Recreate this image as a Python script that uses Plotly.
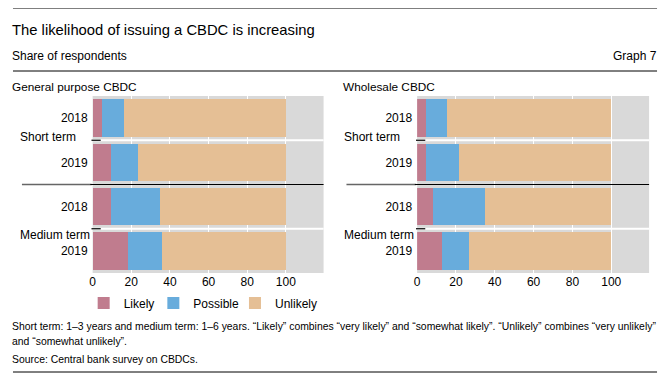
import plotly.graph_objects as go

W, H = 659, 372   # browser body margin of 8px shifts the figure; compensate
OFF = 8
FONT = "Liberation Sans, Arial, sans-serif"

terms = ["Short term", "Medium term"]
years = ["2018", "2019"]
series_names = ["Likely", "Possible", "Unlikely"]
colors = ["#c07c8e", "#68acdc", "#e5bf95"]

# order: Short 2018, Short 2019, Medium 2018, Medium 2019
general_likely = [4.6, 9.7, 9.7, 18.5]
general_possible = [11.8, 13.9, 25.2, 17.4]
general_unlikely = [83.6, 76.4, 65.1, 64.1]

wholesale_likely = [4.6, 4.6, 8.0, 12.8]
wholesale_possible = [10.8, 16.9, 26.9, 13.9]
wholesale_unlikely = [84.6, 78.5, 65.1, 73.3]

x_ticks = [0, 20, 40, 60, 80, 100]

positions = list(range(len(terms) * len(years)))
tick_text = [y for t in terms for y in years]

def px(x):
    return (x - OFF) / W

def py(y):
    return 1 - (y - OFF) / H

fig = go.Figure()

legend_ids = ["legend", "legend2", "legend3"]
panels = [
    ("x", "y", [general_likely, general_possible, general_unlikely], True),
    ("x2", "y2", [wholesale_likely, wholesale_possible, wholesale_unlikely], False),
]
for xa, ya, vals, show in panels:
    for name, col, v, lg in zip(series_names, colors, vals, legend_ids):
        fig.add_trace(go.Bar(
            x=v, y=positions, orientation="h", name=name,
            marker=dict(color=col, line=dict(width=0)),
            xaxis=xa, yaxis=ya, showlegend=show, legend=lg, hoverinfo="x+name",
        ))

ydom = [py(273), py(96)]
xdom1 = [px(90), px(322)]
xdom2 = [px(416), px(649)]

axis_x = dict(range=[0, 119.5], tickvals=x_ticks, showgrid=True, gridcolor="white",
              gridwidth=1, zeroline=False, showline=False, ticks="",
              tickfont=dict(size=12, color="black", family=FONT), fixedrange=True)
axis_y = dict(range=[3.5, -0.5], tickvals=positions, ticktext=tick_text, showgrid=False,
              zeroline=False, showline=False, ticks="", ticklabelstandoff=4,
              tickfont=dict(size=12, color="black", family=FONT), fixedrange=True)

def legend_at(xpix):
    return dict(orientation="h", x=px(xpix), y=py(303), xanchor="left", yanchor="middle",
                font=dict(size=12, family=FONT, color="black"), bgcolor="rgba(0,0,0,0)",
                itemwidth=30)

fig.update_layout(
    width=W, height=H, margin=dict(l=0, r=0, t=0, b=0),
    paper_bgcolor="white", plot_bgcolor="#d9d9d9",
    barmode="stack", bargap=0.15,
    font=dict(family=FONT, size=12, color="black"),
    xaxis=dict(domain=xdom1, anchor="y", **axis_x),
    yaxis=dict(domain=ydom, anchor="x", **axis_y),
    xaxis2=dict(domain=xdom2, anchor="y2", **axis_x),
    yaxis2=dict(domain=ydom, anchor="x2", **axis_y),
    legend=legend_at(81),
    legend2=legend_at(151),
    legend3=legend_at(233),
)

shapes = []
for yy in [8, 71, 372]:
    shapes.append(dict(type="line", xref="paper", yref="paper", x0=px(10), x1=px(657),
                       y0=py(yy), y1=py(yy), line=dict(color="black", width=1)))

for xa, ya, lab_x in [("x", "y", 19), ("x2", "y2", 345)]:
    for yv in [0.5, 2.5]:
        shapes.append(dict(type="line", xref=f"{xa} domain", yref=ya, x0=0, x1=1,
                           y0=yv, y1=yv, line=dict(color="white", width=2), layer="above"))
        shapes.append(dict(type="line", xref=f"{xa} domain", yref=ya, x0=-0.005, x1=0.035,
                           y0=yv, y1=yv, line=dict(color="black", width=1.2), layer="above"))
    shapes.append(dict(type="line", xref="paper", yref=ya, x0=px(lab_x), x1=px(lab_x + 70),
                       y0=1.5, y1=1.5, line=dict(color="#666666", width=1.5), layer="above"))
    shapes.append(dict(type="line", xref=f"{xa} domain", yref=ya, x0=-0.01, x1=1,
                       y0=1.5, y1=1.5, line=dict(color="black", width=1.2), layer="above"))

fig.update_layout(shapes=shapes)

ann = []
def text(x, y, s, size=12, xanchor="left"):
    ann.append(dict(x=px(x), y=py(y), xref="paper", yref="paper", text=s, showarrow=False,
                    xanchor=xanchor, yanchor="middle", font=dict(size=size, family=FONT, color="black")))

text(7, 30, "The likelihood of issuing a CBDC is increasing", size=14.8)
text(7, 56, "Share of respondents", size=12)
text(659, 56, "Graph 7", size=12, xanchor="right")
text(7, 87, "General purpose CBDC", size=11.8)
text(340, 87, "Wholesale CBDC", size=11.8)
text(7, 326, "Short term: 1–3 years and medium term: 1–6 years. “Likely” combines “very likely” and “somewhat likely”. “Unlikely” combines “very unlikely”", size=10.4)
text(7, 341, "and “somewhat unlikely”.", size=10.4)
text(7, 359, "Source: Central bank survey on CBDCs.", size=10.4)

for ya, lab_x in [("y", 15), ("y2", 341)]:
    for t, yv in zip(terms, [0.43, 2.63]):
        ann.append(dict(x=px(lab_x), y=yv, xref="paper", yref=ya, text=t, showarrow=False,
                        xanchor="left", yanchor="middle", font=dict(size=12, family=FONT, color="black")))

fig.update_layout(annotations=ann)

fig.write_html("out.html")
